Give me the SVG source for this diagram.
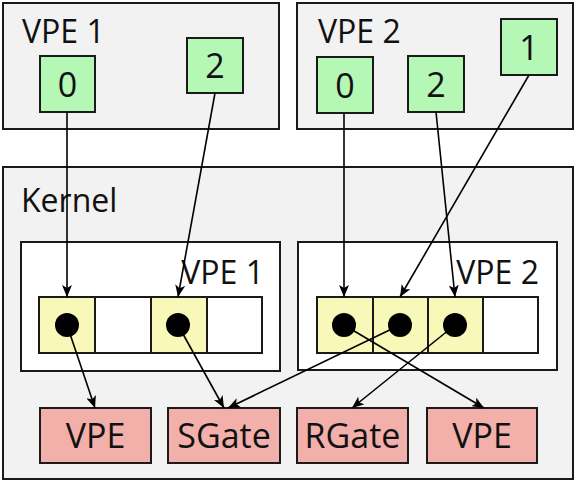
<svg xmlns="http://www.w3.org/2000/svg" width="576" height="482" viewBox="0 0 576 482">
  <style>
    .area { fill: #f2f2f2; stroke: #1a1a1a; stroke-width: 2; }
    .table { fill: #ffffff; stroke: #1a1a1a; stroke-width: 2; }
    .cap { fill: #b5f7b5; stroke: #1a1a1a; stroke-width: 2; }
    .slot { fill: #ffffff; stroke: #1a1a1a; stroke-width: 2; }
    .slot.used { fill: #f8f8b8; }
    .obj { fill: #f3afaa; stroke: #1a1a1a; stroke-width: 2; }
    .dot { fill: #000000; }
    text { font-family: "Open Sans", "DejaVu Sans", sans-serif; fill: #111111; }
    .title { font-size: 32px; }
    .big { font-size: 34px; text-anchor: middle; }
    .conn line { stroke: #000000; stroke-width: 1.6; fill: none; marker-end: url(#arrow); }
  </style>
  <defs>
    <marker id="arrow" viewBox="0 0 12 10" refX="12" refY="5" markerWidth="12" markerHeight="10" markerUnits="userSpaceOnUse" orient="auto">
      <path d="M0,0 L12,5 L0,10 L3,5 Z" fill="#000000"/>
    </marker>
  </defs>

  <!-- user-space activity 1 -->
  <g id="vpe1">
    <rect class="area" x="3" y="3" width="276" height="126"/>
    <text class="title" x="22" y="43">VPE 1</text>
  </g>
  <g id="vpe1-sel0">
    <rect class="cap" x="40" y="56" width="55" height="56"/>
    <text class="big" x="67.5" y="96.5">0</text>
  </g>
  <g id="vpe1-sel2">
    <rect class="cap" x="187" y="38" width="56" height="55"/>
    <text class="big" x="215" y="78">2</text>
  </g>

  <!-- user-space activity 2 -->
  <g id="vpe2">
    <rect class="area" x="297" y="3" width="276" height="126"/>
    <text class="title" x="318" y="43">VPE 2</text>
  </g>
  <g id="vpe2-sel0">
    <rect class="cap" x="317" y="57" width="56" height="56"/>
    <text class="big" x="345" y="97.5">0</text>
  </g>
  <g id="vpe2-sel2">
    <rect class="cap" x="408" y="56" width="56" height="56"/>
    <text class="big" x="436" y="96.5">2</text>
  </g>
  <g id="vpe2-sel1">
    <rect class="cap" x="501" y="19" width="56" height="56"/>
    <text class="big" x="529" y="59.5">1</text>
  </g>

  <!-- kernel -->
  <g id="kernel">
    <rect class="area" x="3" y="167" width="570" height="312"/>
    <text class="title" x="21" y="212">Kernel</text>
  </g>

  <!-- capability table of VPE 1 -->
  <g id="kernel-vpe1-table">
    <rect class="table" x="21" y="242" width="259" height="129"/>
    <text class="title" x="264" y="284" text-anchor="end">VPE 1</text>
    <rect class="slot used" x="39" y="297" width="56" height="56"/>
    <rect class="slot" x="95" y="297" width="56" height="56"/>
    <rect class="slot used" x="151" y="297" width="56" height="56"/>
    <rect class="slot" x="207" y="297" width="55" height="56"/>
    <circle class="dot" cx="67" cy="325" r="12"/>
    <circle class="dot" cx="178" cy="325" r="12"/>
  </g>

  <!-- capability table of VPE 2 -->
  <g id="kernel-vpe2-table">
    <rect class="table" x="298" y="242" width="259" height="128"/>
    <text class="title" x="539" y="284" text-anchor="end">VPE 2</text>
    <rect class="slot used" x="317" y="297" width="56" height="56"/>
    <rect class="slot used" x="373" y="297" width="55" height="56"/>
    <rect class="slot used" x="428" y="297" width="55" height="56"/>
    <rect class="slot" x="483" y="297" width="55" height="56"/>
    <circle class="dot" cx="344" cy="325" r="12"/>
    <circle class="dot" cx="400" cy="325" r="12"/>
    <circle class="dot" cx="455" cy="325" r="12"/>
  </g>

  <!-- kernel objects -->
  <g id="obj-vpe-a">
    <rect class="obj" x="40" y="408" width="111" height="55"/>
    <text class="big" x="95.5" y="448">VPE</text>
  </g>
  <g id="obj-sgate">
    <rect class="obj" x="168" y="408" width="112" height="55"/>
    <text class="big" x="224" y="448">SGate</text>
  </g>
  <g id="obj-rgate">
    <rect class="obj" x="297" y="408" width="111" height="55"/>
    <text class="big" x="352.5" y="448">RGate</text>
  </g>
  <g id="obj-vpe-b">
    <rect class="obj" x="427" y="408" width="110" height="55"/>
    <text class="big" x="482" y="448">VPE</text>
  </g>

  <!-- selectors to capabilities, capabilities to objects -->
  <g id="connectors" class="conn">
    <line x1="67" y1="112" x2="67" y2="297"/>
    <line x1="215" y1="93" x2="178" y2="297"/>
    <line x1="344" y1="113" x2="344" y2="297"/>
    <line x1="436" y1="112" x2="455" y2="297"/>
    <line x1="529" y1="75" x2="400" y2="297"/>
    <line x1="67" y1="325" x2="95" y2="408"/>
    <line x1="178" y1="325" x2="224" y2="408"/>
    <line x1="400" y1="325" x2="228" y2="408"/>
    <line x1="455" y1="325" x2="352" y2="408"/>
    <line x1="344" y1="325" x2="484" y2="408"/>
  </g>
</svg>
